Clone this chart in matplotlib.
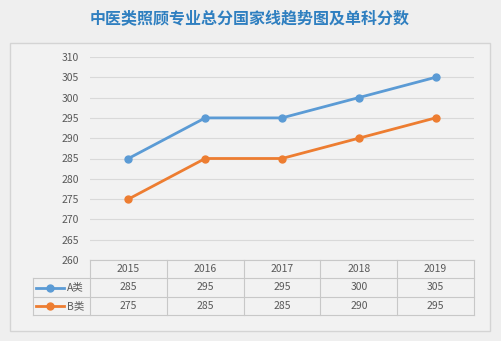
import matplotlib.pyplot as plt
from matplotlib.lines import Line2D
from matplotlib.patches import Rectangle

plt.rcParams['font.family'] = ['Noto Sans CJK SC', 'DejaVu Sans']

title = "中医类照顾专业总分国家线趋势图及单科分数"
years = ["2015", "2016", "2017", "2018", "2019"]
series_names = ["A类", "B类"]
scores_a = [285, 295, 295, 300, 305]
scores_b = [275, 285, 285, 290, 295]
colors = ["#5b9bd5", "#ed7d31"]

W, H = 502, 341
fig = plt.figure(figsize=(W / 100, H / 100), dpi=100)
fig.patch.set_facecolor("#efefef")

def box(x0, y0, x1, y1):
    # pixel box (top-left origin) -> figure fraction rect
    return [x0 / W, 1 - y1 / H, (x1 - x0) / W, (y1 - y0) / H]

# chart panel
fig.patches.append(Rectangle((10 / W, 1 - 331 / H), 480 / W, 288 / H,
                             transform=fig.transFigure, facecolor="#f2f2f2",
                             edgecolor="#d4d4d4", linewidth=1.0, zorder=-1))

fig.text(250 / W, 1 - 18 / H, title, ha="center", va="center",
         fontsize=11.5, color="#2f7fc0", fontweight="bold")

# line plot
ax = fig.add_axes(box(90, 57, 474, 260))
ax.set_facecolor("none")
x = range(len(years))
for vals, c in zip([scores_a, scores_b], colors):
    ax.plot(x, vals, color=c, linewidth=2.0, marker="o", markersize=5, zorder=3)
ax.set_xlim(-0.5, len(years) - 0.5)
ax.set_ylim(260, 310)
ax.set_yticks(range(260, 311, 5))
ax.set_xticks([])
ax.grid(axis="y", color="#d9d9d9", linewidth=0.8)
for s in ax.spines.values():
    s.set_visible(False)
ax.tick_params(axis="y", length=0, pad=8, labelsize=7.5, labelcolor="#595959")

# data table under the plot
tab = fig.add_axes(box(90, 260, 474, 315))
tab.set_facecolor("none")
tab.set_xlim(-0.5, len(years) - 0.5)
tab.set_ylim(3, 0)
tab.axis("off")
px = (len(years)) / 384  # data units per pixel along x
grid_kw = dict(color="#c8c8c8", linewidth=0.8, clip_on=False)
left = -0.5 - 57 * px
tab.plot([-0.5, 4.5], [0, 0], **grid_kw)
for r in (1, 2, 3):
    tab.plot([left, 4.5], [r, r], **grid_kw)
for c in range(len(years) + 1):
    tab.plot([c - 0.5, c - 0.5], [0, 3], **grid_kw)
tab.plot([left, left], [1, 3], **grid_kw)

txt_kw = dict(ha="center", va="center", fontsize=7.5, color="#595959")
for i, yr in enumerate(years):
    tab.text(i, 0.5, yr, **txt_kw)
    tab.text(i, 1.5, str(scores_a[i]), **txt_kw)
    tab.text(i, 2.5, str(scores_b[i]), **txt_kw)

# legend keys inside the row headers
for r, (name, c) in enumerate(zip(series_names, colors)):
    yy = r + 1.5
    x0 = -0.5 - 54 * px
    x1 = -0.5 - 26 * px
    tab.add_line(Line2D([x0, (x0 + x1) / 2, x1], [yy, yy, yy], color=c,
                        linewidth=2.0, marker="o", markevery=[1], markersize=5,
                        clip_on=False))
    tab.text(-0.5 - 23 * px, yy, name, ha="left", va="center",
             fontsize=7.5, color="#595959")

fig.savefig("out.png", dpi=100, facecolor=fig.get_facecolor())
